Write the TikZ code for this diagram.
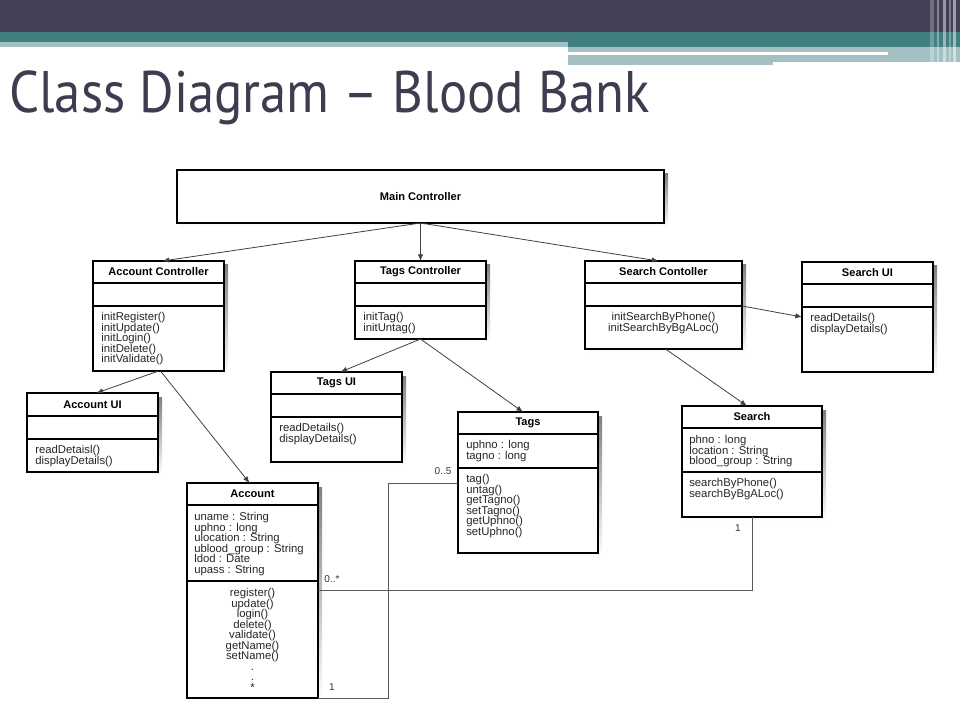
\documentclass[tikz,border=0pt]{standalone}
\usepackage{fontspec}
\usepackage{tikz}
\usetikzlibrary{positioning,arrows.meta,backgrounds}
\newfontfamily\umlsans{Liberation Sans}
\newfontfamily\titlesans{PT Sans}[FakeStretch=0.9]
\definecolor{hdrdark}{HTML}{424155}
\definecolor{hdrteal}{HTML}{427F80}
\definecolor{hdrlight}{HTML}{A3C1C4}
\definecolor{titleink}{HTML}{3E3D4F}
\definecolor{shade}{HTML}{BDBDBD}

\begin{document}
\begin{tikzpicture}[x=0.75pt,y=0.75pt,yscale=-1,xscale=1,
  cls/.style 2 args={draw, line width=1.1pt, fill=white, inner sep=0pt, outer sep=0pt,
    anchor=north west, minimum width=#1*0.75pt, minimum height=#2*0.75pt},
  hd/.style 2 args={cls={#1}{#2}, font=\umlsans\bfseries\fontsize{8.3}{9}\selectfont},
  slot/.style 2 args={cls={#1}{#2}},
  txt/.style={anchor=north west, inner sep=0pt, align=left, text=black!85,
    font={\umlsans\fontsize{8.5}{7.9}\selectfont\lineskiplimit=-20pt\lineskip=0pt}},
  ctxt/.style={txt, anchor=north, align=center},
  conn/.style={draw=black!75, line width=0.6pt, -{Latex[length=5pt,width=4pt]}},
  assoc/.style={draw=black!65, line width=0.6pt},
  lbl/.style={inner sep=0pt, text=black!80, font=\umlsans\fontsize{7.5}{9}\selectfont}]
\useasboundingbox (0,0) rectangle (960,720);

%Shape: Header bands
\fill[hdrdark] (0,0) rectangle (960,32);
\fill[hdrteal] (0,32) rectangle (960,42);
\fill[hdrteal] (568,42) rectangle (960,47);
\fill[hdrlight] (0,42) rectangle (568,47);
\fill[hdrlight] (568,47) rectangle (960,62);
\fill[hdrlight] (568,62) rectangle (773,65);
\fill[white] (568,52) rectangle (888,55);
%Shape: Header stripes
\fill[white,opacity=0.25] (930,0) rectangle (934,64);
\fill[white,opacity=0.35] (937,0) rectangle (939,64);
\fill[white,opacity=0.45] (943,0) rectangle (946,64);
\fill[white,opacity=0.3] (949,0) rectangle (951,64);
\fill[white,opacity=0.5] (953,0) rectangle (956,64);

% Text Node
\node[anchor=base west, inner sep=0pt, text=titleink, font=\titlesans\fontsize{44}{50}\selectfont] (title) at (9,113) {Class Diagram – Blood Bank};

%Shape: Main Controller
\node[hd={487}{53}] (main) at (177,170) {Main Controller};

%Shape: Account Controller
\node[hd={131}{22}] (accctl) at (93,261) {Account Controller};
\node[slot={131}{23}, below=0pt of accctl] (accctl-at) {};
\node[slot={131}{65}, below=0pt of accctl-at] (accctl-op) {};
% Text Node
\node[txt] (accctl-tx) at ([shift={(8,6)}]accctl-op.north west) {initRegister()\\initUpdate()\\initLogin()\\initDelete()\\initValidate()};

%Shape: Tags Controller
\node[hd={131}{22}] (tagctl) at (355,261) {Tags Controller};
\node[slot={131}{23}, below=0pt of tagctl] (tagctl-at) {};
\node[slot={131}{33}, below=0pt of tagctl-at] (tagctl-op) {};
% Text Node
\node[txt] (tagctl-tx) at ([shift={(8,6)}]tagctl-op.north west) {initTag()\\initUntag()};

%Shape: Search Contoller
\node[hd={157}{22}] (srchctl) at (585,261) {Search Contoller};
\node[slot={157}{23}, below=0pt of srchctl] (srchctl-at) {};
\node[slot={157}{43}, below=0pt of srchctl-at] (srchctl-op) {};
% Text Node
\node[ctxt] (srchctl-tx) at ([shift={(0,6)}]srchctl-op.north) {initSearchByPhone()\\initSearchByBgALoc()};

%Shape: Search UI
\node[hd={131}{22}] (srchui) at (802,262) {Search UI};
\node[slot={131}{23}, below=0pt of srchui] (srchui-at) {};
\node[slot={131}{65}, below=0pt of srchui-at] (srchui-op) {};
% Text Node
\node[txt] (srchui-tx) at ([shift={(8,6)}]srchui-op.north west) {readDetails()\\displayDetails()};

%Shape: Account UI
\node[hd={131}{23}] (accui) at (27,393) {Account UI};
\node[slot={131}{23}, below=0pt of accui] (accui-at) {};
\node[slot={131}{33}, below=0pt of accui-at] (accui-op) {};
% Text Node
\node[txt] (accui-tx) at ([shift={(8,6)}]accui-op.north west) {readDetaisl()\\displayDetails()};

%Shape: Tags UI
\node[hd={131}{22}] (tagui) at (271,372) {Tags UI};
\node[slot={131}{23}, below=0pt of tagui] (tagui-at) {};
\node[slot={131}{45}, below=0pt of tagui-at] (tagui-op) {};
% Text Node
\node[txt] (tagui-tx) at ([shift={(8,6)}]tagui-op.north west) {readDetails()\\displayDetails()};

%Shape: Tags
\node[hd={140}{22}] (tags) at (458,412) {Tags};
\node[slot={140}{34}, below=0pt of tags] (tags-at) {};
\node[slot={140}{85}, below=0pt of tags-at] (tags-op) {};
% Text Node
\node[txt] (tags-atx) at ([shift={(8,6)}]tags-at.north west) {uphno : long\\tagno : long};
% Text Node
\node[txt] (tags-tx) at ([shift={(8,6)}]tags-op.north west) {tag()\\untag()\\getTagno()\\setTagno()\\getUphno()\\setUphno()};

%Shape: Search
\node[hd={140}{22}] (srch) at (682,406) {Search};
\node[slot={140}{44}, below=0pt of srch] (srch-at) {};
\node[slot={140}{45}, below=0pt of srch-at] (srch-op) {};
% Text Node
\node[txt] (srch-atx) at ([shift={(7,7)}]srch-at.north west) {phno : long\\location : String\\blood\_group : String};
% Text Node
\node[txt] (srch-tx) at ([shift={(7,6)}]srch-op.north west) {searchByPhone()\\searchByBgALoc()};

%Shape: Account
\node[hd={131}{22}] (acc) at (187,483) {Account};
\node[slot={131}{76}, below=0pt of acc] (acc-at) {};
\node[slot={131}{117}, below=0pt of acc-at] (acc-op) {};
% Text Node
\node[txt] (acc-atx) at ([shift={(7,7)}]acc-at.north west) {uname : String\\uphno : long\\ulocation : String\\ublood\_group : String\\ldod : Date\\upass : String};
% Text Node
\node[ctxt] (acc-tx) at ([shift={(0,7)}]acc-op.north) {register()\\update()\\login()\\delete()\\validate()\\getName()\\setName()\\.\\.\\*};

%Shape: Shadows
\begin{scope}[on background layer]
\fill[shade] ([shift={(4,4)}]main.north west) rectangle ([shift={(4,4)}]main.south east);
\fill[shade] ([shift={(4,4)}]accctl.north west) rectangle ([shift={(4,4)}]accctl-op.south east);
\fill[shade] ([shift={(4,4)}]tagctl.north west) rectangle ([shift={(4,4)}]tagctl-op.south east);
\fill[shade] ([shift={(4,4)}]srchctl.north west) rectangle ([shift={(4,4)}]srchctl-op.south east);
\fill[shade] ([shift={(4,4)}]srchui.north west) rectangle ([shift={(4,4)}]srchui-op.south east);
\fill[shade] ([shift={(4,4)}]accui.north west) rectangle ([shift={(4,4)}]accui-op.south east);
\fill[shade] ([shift={(4,4)}]tagui.north west) rectangle ([shift={(4,4)}]tagui-op.south east);
\fill[shade] ([shift={(4,4)}]tags.north west) rectangle ([shift={(4,4)}]tags-op.south east);
\fill[shade] ([shift={(4,4)}]srch.north west) rectangle ([shift={(4,4)}]srch-op.south east);
\fill[shade] ([shift={(4,4)}]acc.north west) rectangle ([shift={(4,4)}]acc-op.south east);
\end{scope}

%Straight Lines
\draw[conn] (main.south) -- ([shift={(4,0)}]accctl.north);
\draw[conn] (main.south) -- (tagctl.north);
\draw[conn] (main.south) -- ([shift={(-5,0)}]srchctl.north);
\draw[conn] (accctl-op.south) -- ([shift={(4,0)}]accui.north);
\draw[conn] ([shift={(2,0)}]accctl-op.south) -- ([shift={(-3,0)}]acc.north);
\draw[conn] (tagctl-op.south) -- ([shift={(4,0)}]tagui.north);
\draw[conn] (tagctl-op.south) -- ([shift={(-5,0)}]tags.north);
\draw[conn] ([shift={(2,0)}]srchctl-op.south) -- ([shift={(-5,0)}]srch.north);
\draw[conn] (srchctl-at.south east) -- ([shift={(0,10)}]srchui-op.north west);

%Straight Lines (associations)
\draw[assoc] (srch-op.south) |- ([shift={(0,9)}]acc-at.south east);
\draw[assoc] ([shift={(0,15)}]tags-op.north west) -- ++(-70,0) |- (acc-op.south east);

% Text Node
\node[lbl] (m1) at (738,528) {1};
% Text Node
\node[lbl] (m2) at (332,579) {0..*};
% Text Node
\node[lbl] (m3) at (443,471) {0..5};
% Text Node
\node[lbl] (m4) at (332,687) {1};

\end{tikzpicture}
\end{document}
